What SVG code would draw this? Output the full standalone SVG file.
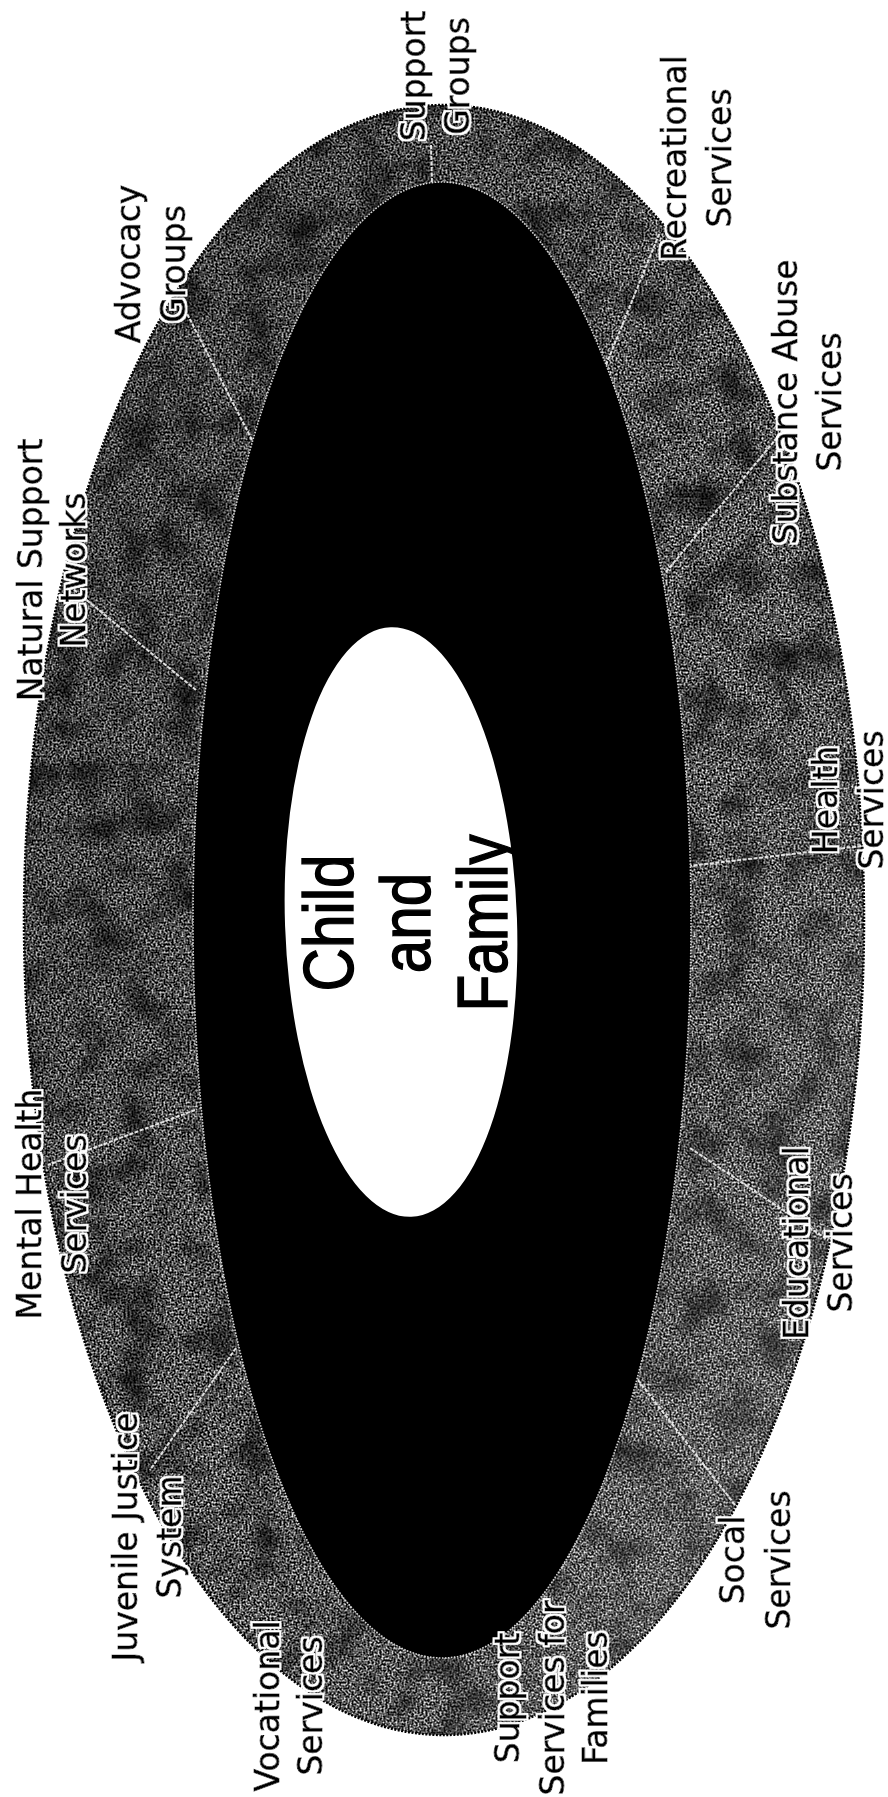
<svg xmlns="http://www.w3.org/2000/svg" width="888" height="1797" viewBox="0 0 888 1797">
<style>
.lbl{font-family:"DejaVu Sans",Verdana,sans-serif;font-size:33px;fill:#000;stroke:#000;stroke-width:0.8px;filter:url(#halo)}
.center{font-family:"Liberation Sans",Arial,sans-serif;font-size:70px;fill:#000;stroke:#000;stroke-width:1.4px}
.div{stroke:#f4f4f4;stroke-width:2;stroke-dasharray:4 1.5;fill:none;opacity:.9}
</style>
<defs>
<filter id="tex" x="0" y="0" width="1" height="1" color-interpolation-filters="sRGB">
<feTurbulence type="fractalNoise" baseFrequency="0.5" numOctaves="2" seed="3" result="f"/>
<feColorMatrix in="f" type="matrix" values="2.4 0 0 0 -0.84  2.4 0 0 0 -0.84  2.4 0 0 0 -0.84  0 0 0 0 1" result="fg"/>
<feTurbulence type="fractalNoise" baseFrequency="0.025" numOctaves="3" seed="8" result="c"/>
<feColorMatrix in="c" type="matrix" values="1.6 0 0 0 0.1  1.6 0 0 0 0.1  1.6 0 0 0 0.1  0 0 0 0 1" result="cg"/>
<feBlend in="fg" in2="cg" mode="multiply" result="m"/>
<feComposite in="m" in2="SourceAlpha" operator="in"/>
</filter>
<linearGradient id="shade" x1="0" y1="0" x2="1" y2="1">
<stop offset="0" stop-color="#000" stop-opacity="0.35"/>
<stop offset="0.55" stop-color="#000" stop-opacity="0.05"/>
<stop offset="1" stop-color="#fff" stop-opacity="0.2"/>
</linearGradient>
<filter id="halo" x="-5%" y="-5%" width="110%" height="110%">
<feMorphology in="SourceAlpha" operator="dilate" radius="1.6" result="d"/>
<feFlood flood-color="#fff"/>
<feComposite in2="d" operator="in" result="h"/>
<feMerge><feMergeNode in="h"/><feMergeNode in="SourceGraphic"/></feMerge>
</filter>
</defs>
<rect width="888" height="1797" fill="#fff"/>
<g id="ring">
<ellipse cx="444" cy="920" rx="420" ry="815" fill="#000" filter="url(#tex)"/>
<ellipse cx="444" cy="920" rx="420" ry="815" fill="url(#shade)"/>
<ellipse cx="444" cy="920" rx="420" ry="815" fill="none" stroke="#000" stroke-width="2.5" stroke-dasharray="2 1.5"/>
</g>
<g id="connectors">
<line class="div" x1="252" y1="440" x2="180" y2="300"/>
<line class="div" x1="196" y1="690" x2="72" y2="588"/>
<line class="div" x1="195" y1="1110" x2="48" y2="1165"/>
<line class="div" x1="236" y1="1348" x2="150" y2="1470"/>
<line class="div" x1="638" y1="1380" x2="735" y2="1505"/>
<line class="div" x1="690" y1="1148" x2="828" y2="1240"/>
<line class="div" x1="688" y1="866" x2="862" y2="846"/>
<line class="div" x1="666" y1="572" x2="785" y2="428"/>
<line class="div" x1="606" y1="365" x2="660" y2="232"/>
<line class="div" x1="431" y1="145" x2="432" y2="184"/>
</g>
<g id="core">
<ellipse cx="442" cy="920" rx="249" ry="738" fill="#000" stroke="#d8d8d8" stroke-width="1.6" stroke-dasharray="1.5 1.5"/>
</g>
<g id="child-family">
<ellipse cx="401" cy="922" rx="116" ry="295" fill="#fff" transform="rotate(-2 401 922)"/>
<text class="center" transform="translate(353,923) rotate(-90) scale(0.86,1)" text-anchor="middle"><tspan x="0" y="0">Child</tspan><tspan x="0" y="77">and</tspan><tspan x="0" y="154">Family</tspan></text>
</g>
<g id="support-groups"><text class="lbl" transform="translate(425,76) rotate(-90)" text-anchor="middle"><tspan x="0" y="0">Support</tspan><tspan x="0" y="44">Groups</tspan></text></g>
<g id="recreational"><text class="lbl" transform="translate(686,158) rotate(-90)" text-anchor="middle"><tspan x="0" y="0">Recreational</tspan><tspan x="0" y="45">Services</tspan></text></g>
<g id="substance-abuse"><text class="lbl" transform="translate(797,402) rotate(-90)" text-anchor="middle"><tspan x="0" y="0">Substance Abuse</tspan><tspan x="0" y="44">Services</tspan></text></g>
<g id="health"><text class="lbl" transform="translate(837,800) rotate(-90)" text-anchor="middle"><tspan x="0" y="0">Health</tspan><tspan x="0" y="46">Services</tspan></text></g>
<g id="educational"><text class="lbl" transform="translate(808,1243) rotate(-90)" text-anchor="middle"><tspan x="0" y="0">Educational</tspan><tspan x="0" y="44">Services</tspan></text></g>
<g id="social"><text class="lbl" transform="translate(744,1560) rotate(-90)" text-anchor="middle"><tspan x="0" y="0">Socal</tspan><tspan x="0" y="46">Services</tspan></text></g>
<g id="family-support"><text class="lbl" transform="translate(519,1698) rotate(-90)" text-anchor="middle"><tspan x="0" y="0">Support</tspan><tspan x="0" y="45">Services for</tspan><tspan x="0" y="88">Families</tspan></text></g>
<g id="vocational"><text class="lbl" transform="translate(279,1706) rotate(-90)" text-anchor="middle"><tspan x="0" y="0">Vocational</tspan><tspan x="0" y="43">Services</tspan></text></g>
<g id="juvenile"><text class="lbl" transform="translate(137,1537) rotate(-90)" text-anchor="middle"><tspan x="0" y="0">Juvenile Justice</tspan><tspan x="0" y="44">System</tspan></text></g>
<g id="mental-health"><text class="lbl" transform="translate(41,1204) rotate(-90)" text-anchor="middle"><tspan x="0" y="0">Mental Health</tspan><tspan x="0" y="45">Services</tspan></text></g>
<g id="natural-support"><text class="lbl" transform="translate(42,570) rotate(-90)" text-anchor="middle"><tspan x="0" y="0">Natural Support</tspan><tspan x="0" y="43">Networks</tspan></text></g>
<g id="advocacy"><text class="lbl" transform="translate(140,264) rotate(-90)" text-anchor="middle"><tspan x="0" y="0">Advocacy</tspan><tspan x="0" y="45">Groups</tspan></text></g>
</svg>
